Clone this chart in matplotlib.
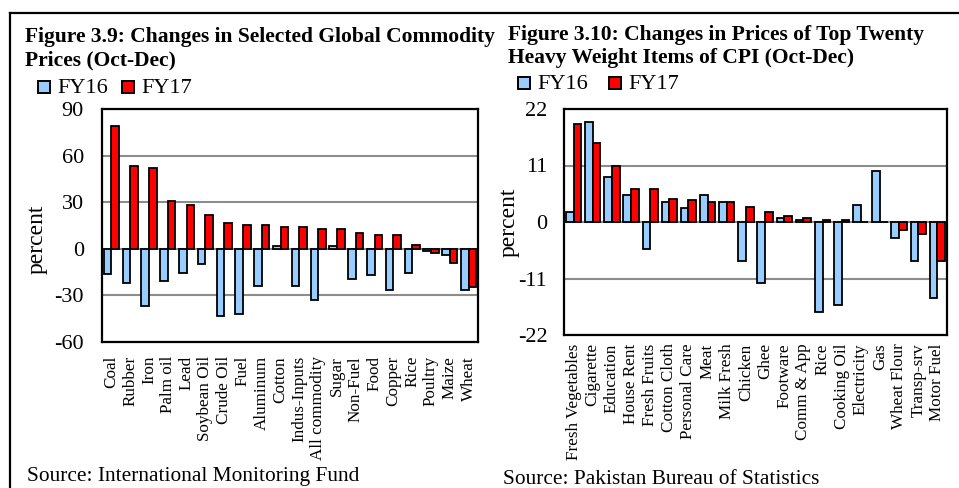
import matplotlib
matplotlib.use("Agg")
import matplotlib.pyplot as plt
import numpy as np
from matplotlib.lines import Line2D
from matplotlib.patches import Rectangle

plt.rcParams['font.family'] = ['Liberation Serif', 'DejaVu Serif']

# Figura 3.9 - materias primas
commodities = ['Coal', 'Rubber', 'Iron', 'Palm oil', 'Lead', 'Soybean Oil', 'Crude Oil', 'Fuel',
               'Aluminum', 'Cotton', 'Indus-Inputs', 'All commodity', 'Sugar', 'Non-Fuel', 'Food',
               'Copper', 'Rice', 'Poultry', 'Maize', 'Wheat']
comm_fy16 = [-16.5, -21.9, -37.1, -20.6, -15.4, -10.0, -43.5, -42.0, -24.2, 1.5,
             -24.2, -33.2, 1.5, -19.3, -16.7, -26.8, -15.4, -1.5, -4.3, -26.8]
comm_fy17 = [78.9, 53.6, 52.3, 30.6, 28.1, 21.6, 16.5, 15.4, 15.4, 14.1,
             14.1, 12.6, 12.6, 10.1, 8.8, 8.8, 2.6, -2.6, -9.0, -24.4]

# Figura 3.10 - items del IPC
cpi_items = ['Fresh Vegetables', 'Cigarette', 'Education', 'House Rent', 'Fresh Fruits', 'Cotton Cloth',
             'Personal Care', 'Meat', 'Milk Fresh', 'Chicken', 'Ghee', 'Footware', 'Comm & App', 'Rice',
             'Cooking Oil', 'Electricity', 'Gas', 'Wheat Flour', 'Transp-srv', 'Motor Fuel']
cpi_fy16 = [1.85, 19.4, 8.8, 5.3, -5.3, 3.8, 2.7, 5.3, 3.8, -7.6,
            -11.8, 0.77, 0.4, -17.6, -16.2, 3.4, 9.9, -3.1, -7.6, -14.7]
cpi_fy17 = [19.0, 15.3, 11.0, 6.4, 6.4, 4.5, 4.2, 3.8, 3.8, 3.0,
            1.85, 1.15, 0.77, 0.4, 0.4, 0.0, 0.0, -1.6, -2.3, -7.6]

left_ticks = [-60, -30, 0, 30, 60, 90]
right_ticks = [-22, -11, 0, 11, 22]

BLUE = '#99CCFF'
RED = '#FF0000'
W, H = 959, 488

fig = plt.figure(figsize=(W / 100, H / 100), dpi=100)


def px_axes(x0, y0, x1, y1):
    # coordenadas en pixeles (origen arriba a la izquierda)
    return fig.add_axes([x0 / W, 1 - y1 / H, (x1 - x0) / W, (y1 - y0) / H])


def dibujar(ax, cats, fy16, fy17, ticks, ypad, xpad):
    x = np.arange(len(cats))
    ax.bar(x - 0.2, fy16, width=0.4, color=BLUE, edgecolor='black', linewidth=1.3, zorder=3)
    ax.bar(x + 0.2, fy17, width=0.4, color=RED, edgecolor='black', linewidth=1.3, zorder=3)
    ax.set_xlim(-0.5, len(cats) - 0.5)
    ax.set_ylim(ticks[0], ticks[-1])
    ax.set_yticks(ticks)
    ax.set_yticklabels([str(t) for t in ticks], fontsize=16)
    ax.set_xticks(x)
    ax.set_xticklabels(cats, rotation=90, fontsize=12.3)
    ax.tick_params(axis='both', length=0)
    ax.tick_params(axis='y', pad=ypad)
    ax.tick_params(axis='x', pad=xpad)
    ax.grid(axis='y', color='#8c8c8c', linewidth=1.5, zorder=1)
    ax.set_axisbelow(True)
    for s in ax.spines.values():
        s.set_linewidth(1.6)
    ax.set_ylabel('percent', fontsize=17)


ax1 = px_axes(102, 109, 478, 342)
dibujar(ax1, commodities, comm_fy16, comm_fy17, left_ticks, 13, 10)
ax1.yaxis.set_label_coords(-54 / 376, 0.44)

ax2 = px_axes(564, 109, 947, 335)
dibujar(ax2, cpi_items, cpi_fy16, cpi_fy17, right_ticks, 12, 6)
ax2.yaxis.set_label_coords(-44 / 383, 0.5)

# titulos (linea por linea)
t_izq = ['Figure 3.9: Changes in Selected Global Commodity', 'Prices (Oct-Dec)']
t_der = ['Figure 3.10: Changes in Prices of Top Twenty', 'Heavy Weight Items of CPI (Oct-Dec)']
for i, linea in enumerate(t_izq):
    fig.text(25 / W, 1 - (42 + 23 * i) / H, linea, fontsize=15.5, fontweight='bold', va='baseline')
for i, linea in enumerate(t_der):
    fig.text(508 / W, 1 - (40 + 23 * i) / H, linea, fontsize=15.5, fontweight='bold', va='baseline')


# leyendas hechas a mano
def leyenda(x0, x1, y):
    for xx, col, lab in [(x0, BLUE, 'FY16'), (x1, RED, 'FY17')]:
        fig.patches.append(Rectangle((xx / W, 1 - y / H), 12 / W, 12 / H, transform=fig.transFigure,
                                     facecolor=col, edgecolor='black', linewidth=1.4))
        fig.text((xx + 19) / W, 1 - y / H, lab, fontsize=16, va='baseline', ha='left')


leyenda(38, 122, 93)
leyenda(518, 609, 89)

# fuentes
fig.text(27 / W, 1 - 481 / H, 'Source: International Monitoring Fund', fontsize=15.4, va='baseline')
fig.text(503 / W, 1 - 484 / H, 'Source: Pakistan Bureau of Statistics', fontsize=15.4, va='baseline')

# marco exterior
fig.lines.append(Line2D([10 / W, 10 / W], [0, 1 - 13 / H], transform=fig.transFigure, color='black', linewidth=1.6))
fig.lines.append(Line2D([10 / W, 1], [1 - 13 / H, 1 - 13 / H], transform=fig.transFigure, color='black', linewidth=1.6))

fig.savefig('out.png', dpi=100)
